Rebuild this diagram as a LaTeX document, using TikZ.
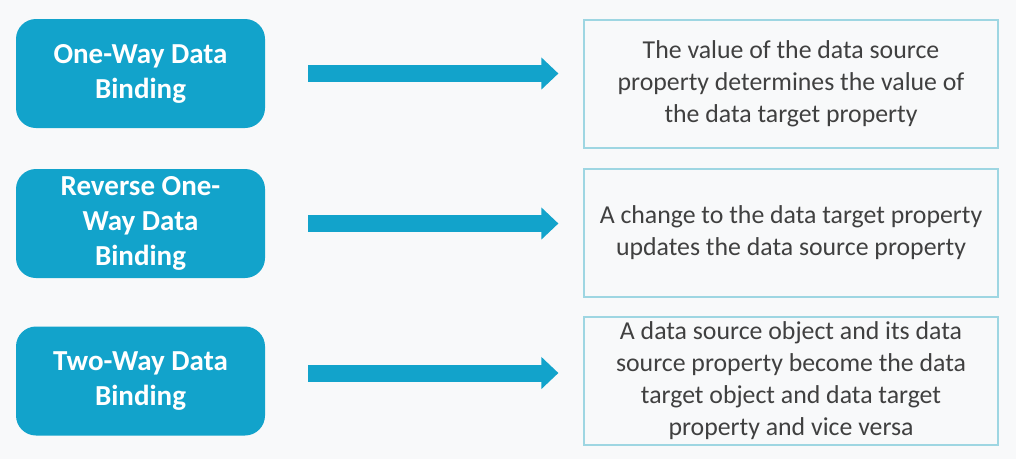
\documentclass[tikz,border=0pt]{standalone}
\usepackage{fontspec}
\setmainfont{Carlito}
\usetikzlibrary{arrows.meta}
\definecolor{bindblue}{HTML}{12A3CB}
\definecolor{boxline}{HTML}{9ED6E2}
\definecolor{pagebg}{HTML}{F8F9FA}
\definecolor{bodytext}{HTML}{404040}

\begin{document}
\begin{tikzpicture}[x=1pt,y=-1pt,
    kind/.style={fill=bindblue,rounded corners=20pt,minimum width=249pt,minimum height=109pt,
      inner sep=0pt,align=center,text=white,font=\fontsize{29}{35}\selectfont\bfseries},
    meaning/.style={draw=boxline,line width=1.2pt,fill=pagebg,minimum width=414pt,minimum height=128pt,
      inner sep=0pt,align=center,text=bodytext,font=\fontsize{25.8}{32}\selectfont},
    fatarrow/.style={draw=bindblue,line width=17pt,-{Triangle[width=31pt,length=17pt]},
      shorten <=43pt,shorten >=25pt}]
      \fill[pagebg] (0,0) rectangle (1016,459);
      \useasboundingbox (0,0) rectangle (1016,459);
      % left column
      \node[kind] (l1) at (140.5,73.5) {One-Way Data\\Binding};
      \node[kind] (l2) at (140.5,223.5) {Reverse One-\\Way Data\\Binding};
      \node[kind] (l3) at (140.5,381) {Two-Way Data\\Binding};
      % right column
      \node[meaning] (r1) at (791,84) {The value of the data source\\property determines the value of\\the data target property};
      \node[meaning] (r2) at (791,233) {A change to the data target property\\updates the data source property};
      \node[meaning] (r3) at (791,381) {A data source object and its data\\source property become the data\\target object and data target\\property and vice versa};
      % arrows
      \draw[fatarrow] (l1.east) -- (l1.east -| r1.west);
      \draw[fatarrow] (l2.east) -- (l2.east -| r2.west);
      \draw[fatarrow] ([yshift=8pt]l3.east) -- ([yshift=8pt]l3.east -| r3.west);
    \end{tikzpicture}
\end{document}
